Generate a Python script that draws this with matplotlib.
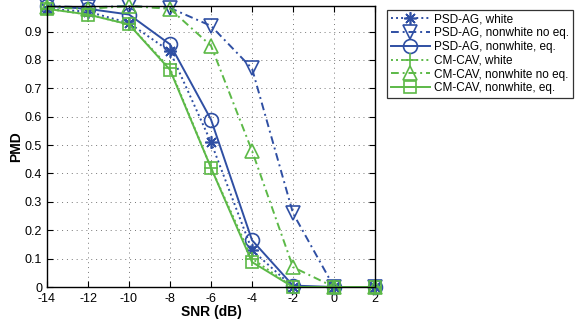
import matplotlib
matplotlib.use("Agg")
import matplotlib.pyplot as plt
from matplotlib.ticker import FuncFormatter

plt.rcParams['font.family'] = ['Liberation Sans', 'DejaVu Sans']
plt.rcParams['axes.unicode_minus'] = False

snr = [-14, -12, -10, -8, -6, -4, -2, 0, 2]

psd_white = [0.98, 0.97, 0.93, 0.83, 0.51, 0.13, 0.0, 0.0, 0.0]
psd_noeq = [0.99, 0.985, 0.99, 0.983, 0.92, 0.77, 0.26, 0.0, 0.0]
psd_eq = [0.99, 0.98, 0.96, 0.855, 0.59, 0.165, 0.005, 0.0, 0.0]
cav_white = [0.98, 0.96, 0.925, 0.77, 0.42, 0.10, 0.0, 0.0, 0.0]
cav_noeq = [0.985, 0.98, 0.99, 0.98, 0.85, 0.48, 0.07, 0.0, 0.0]
cav_eq = [0.98, 0.96, 0.925, 0.765, 0.42, 0.088, 0.0, 0.0, 0.0]

labels = ['PSD-AG, white', 'PSD-AG, nonwhite no eq.', 'PSD-AG, nonwhite, eq.',
          'CM-CAV, white', 'CM-CAV, nonwhite no eq.', 'CM-CAV, nonwhite, eq.']

blue = '#2f4fa3'
green = '#5cb947'

dotted = (0, (1, 1.6))
dashdot = (0, (4, 2, 1, 2))

fig = plt.figure(figsize=(5.75, 3.27), dpi=100)
ax = fig.add_axes([47 / 575, 1 - 287 / 327, 328 / 575, 281 / 327])

series = [
    (psd_white, blue, dotted, (8, 2, 0), 9),
    (psd_noeq, blue, dashdot, 'v', 10),
    (psd_eq, blue, '-', 'o', 10),
    (cav_white, green, dotted, '+', 10),
    (cav_noeq, green, dashdot, '^', 10),
    (cav_eq, green, '-', 's', 8),
]

for (ydata, color, ls, mk, ms), label in zip(series, labels):
    ax.plot(snr, ydata, color=color, linestyle=ls, marker=mk, markersize=ms,
            markerfacecolor='none', markeredgecolor=color, markeredgewidth=1.2,
            linewidth=1.4, label=label, clip_on=False)

ax.set_xlim(-14, 2)
ax.set_ylim(0, 0.99)
ax.set_xticks(range(-14, 3, 2))
ax.set_yticks([i / 10 for i in range(10)])
ax.yaxis.set_major_formatter(FuncFormatter(lambda v, p: '0' if v == 0 else f'{v:.1f}'))
ax.tick_params(direction='in', top=True, right=True, labelsize=9, length=4, width=0.8)
ax.tick_params(axis='x', pad=4.5)
ax.grid(True, linestyle=(0, (1, 4)), color='#777777', linewidth=0.7)
for s in ax.spines.values():
    s.set_linewidth(1.0)

ax.set_xlabel('SNR (dB)', fontsize=10, fontweight='bold', labelpad=0)
ax.set_ylabel('PMD', fontsize=10, fontweight='bold', labelpad=1)

leg = fig.legend(loc='upper left', bbox_to_anchor=(387 / 575, 1 - 10 / 327),
                 fontsize=8.5, handlelength=3.3, frameon=True, fancybox=False,
                 edgecolor='black', borderpad=0.3, labelspacing=0.15,
                 handletextpad=0.4, borderaxespad=0, numpoints=1)
leg.get_frame().set_linewidth(0.9)

fig.savefig('out.png', dpi=100)
